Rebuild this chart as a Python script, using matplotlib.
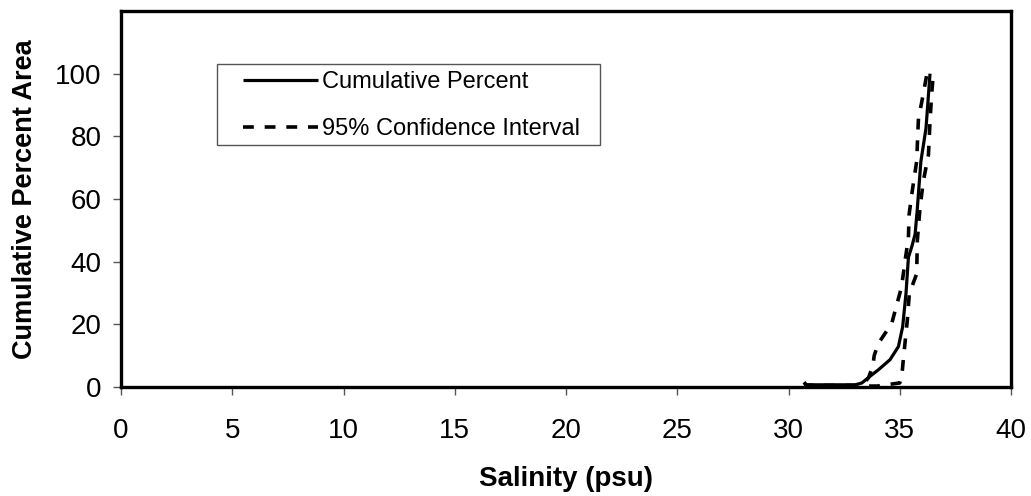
import matplotlib
matplotlib.use("Agg")
import matplotlib.pyplot as plt
from matplotlib.patches import Rectangle

plt.rcParams['font.family'] = ['Liberation Sans', 'DejaVu Sans']

# Cumulative percent curve
cum_x = [30.7, 30.8, 31.5, 32.5, 33.0, 33.3, 33.66, 34.04, 34.56, 34.94, 35.13, 35.28, 35.39,
         35.55, 35.69, 35.78, 35.86, 35.95, 36.18, 36.29, 36.36]
cum_y = [1.5, 0.7, 0.7, 0.7, 0.7, 1.3, 3.4, 5.5, 8.7, 12.9, 19.2, 29.8, 41.4,
         45.0, 48.8, 56.0, 63.6, 72.0, 82.6, 93.2, 100.0]

# Upper 95% confidence bound (left dashed curve)
upper_x = [30.7, 30.8, 32.0, 33.0, 33.4, 33.6, 33.8, 33.85, 34.04, 34.64, 35.08, 35.24,
           35.39, 35.42, 35.54, 35.76, 35.84, 35.99, 36.21, 36.5]
upper_y = [1.5, 0.5, 0.5, 0.5, 1.3, 3.0, 7.0, 10.0, 13.9, 20.3, 31.9, 40.3,
           47.7, 55.0, 61.5, 72.0, 85.7, 91.0, 99.5, 100.0]

# Lower 95% confidence bound (right dashed curve)
lower_x = [30.7, 32.0, 34.0, 35.0, 35.1, 35.16, 35.34, 35.43, 35.76, 35.79, 35.91, 36.06,
           36.29, 36.36, 36.43, 36.51]
lower_y = [0.5, 0.3, 0.3, 1.3, 4.0, 8.7, 21.3, 29.8, 36.1, 46.7, 57.2, 65.7,
           74.1, 84.7, 93.2, 100.0]

x_ticks = [0, 5, 10, 15, 20, 25, 30, 35, 40]
y_ticks = [0, 20, 40, 60, 80, 100]

fig = plt.figure(figsize=(10.31, 4.96), dpi=100)
ax = fig.add_axes([121/1031, 1 - 387/496, 890/1031, 376/496])

ax.plot(cum_x, cum_y, color='black', lw=2.3, solid_capstyle='butt',
        label='Cumulative Percent')
ax.plot(upper_x, upper_y, color='black', lw=2.6, linestyle=(0, (3, 3)),
        label='95% Confidence Interval')
ax.plot(lower_x, lower_y, color='black', lw=2.6, linestyle=(0, (3, 3)))

ax.set_xlim(0, 40)
ax.set_ylim(0, 120)
ax.set_xticks(x_ticks)
ax.set_yticks(y_ticks)
ax.tick_params(axis='both', direction='out', length=6, width=1, color='#555555',
               labelsize=20)
ax.tick_params(axis='x', pad=16)
ax.tick_params(axis='y', pad=8)
for s in ax.spines.values():
    s.set_linewidth(2.4)
    s.set_color('black')

ax.set_xlabel('Salinity (psu)', fontsize=20, fontweight='bold', labelpad=16)
ax.set_ylabel('Cumulative Percent Area', fontsize=19.5, fontweight='bold', labelpad=12)

# legend frame (drawn separately to match the reference box)
ax.add_patch(Rectangle((0.108, 0.644), 0.430, 0.215, transform=ax.transAxes,
                       facecolor='white', edgecolor='#555555', lw=1.0, zorder=4))
leg = ax.legend(loc='upper left', bbox_to_anchor=(0.137, 0.841), borderaxespad=0,
                borderpad=0, fontsize=17, handlelength=3.18, handletextpad=0.15,
                frameon=False, labelspacing=1.06)
leg.set_zorder(5)

fig.savefig('out.png', dpi=100, facecolor='white')
